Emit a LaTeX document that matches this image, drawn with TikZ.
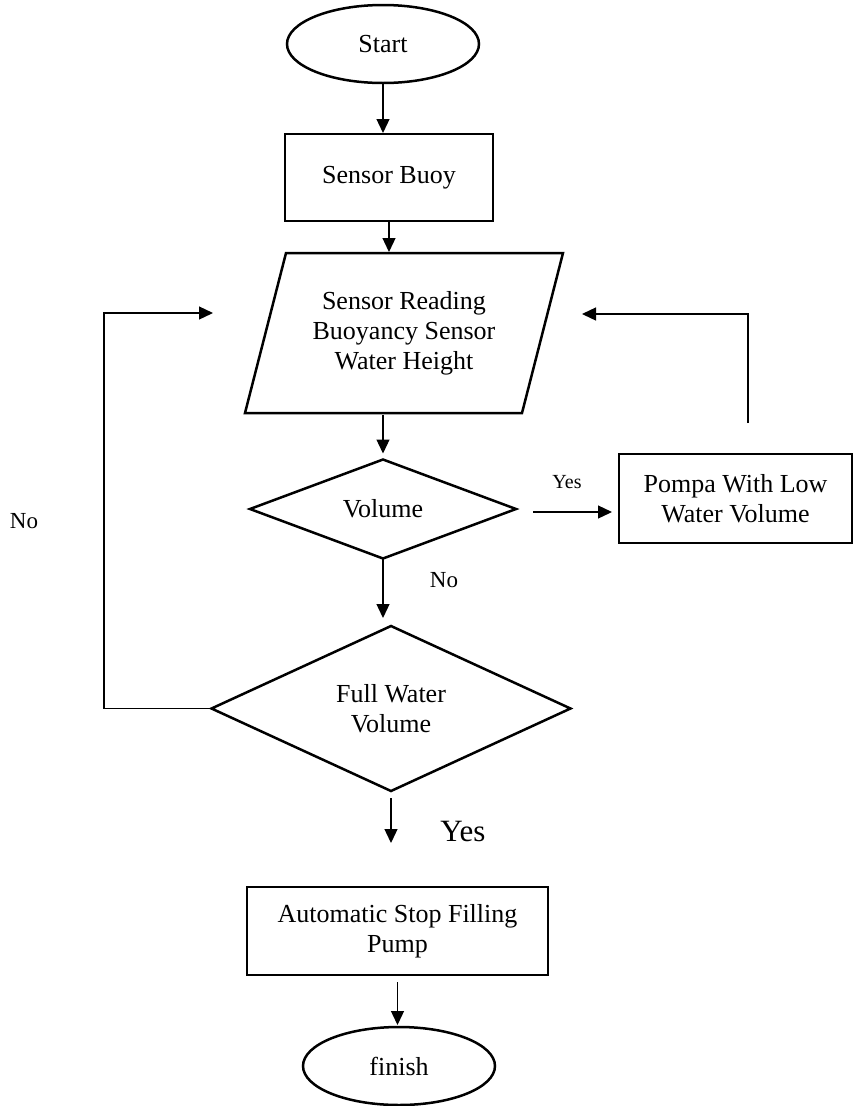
\documentclass[tikz,border=0pt]{standalone}
\usepackage{fontspec}
\setmainfont{Liberation Serif}
\usetikzlibrary{shapes.geometric,arrows.meta,calc}
\begin{document}
\begin{tikzpicture}[x=1pt,y=-1pt,
  shp/.style={draw, line width=2.5pt, inner sep=0pt, outer sep=0pt, align=center, font=\fontsize{26}{30}\selectfont},
  term/.style={shp, ellipse, minimum width=192pt, minimum height=78pt},
  proc/.style={shp, rectangle},
  dec/.style={shp, diamond, aspect=2.5},
  arr/.style={line width=1.3pt, -{Triangle[length=14pt,width=13pt]}},
  lbl/.style={inner sep=0pt, font=\fontsize{#1}{#1}\selectfont}]
\useasboundingbox[fill=white] (0,0) rectangle (855,1106);

% nodes
\node[term] (start) at (383,44) {Start};
\node[proc, minimum width=208pt, minimum height=87pt] (buoy) at (389,177.5) {Sensor Buoy};
\node[shp, draw=none, minimum width=318pt, minimum height=160pt] (para) at (404,333) {Sensor Reading\\Buoyancy Sensor\\Water Height};
\draw[line width=2.5pt, line join=miter] (para.south west) -- ($(para.north west)+(41,0)$) -- (para.north east) -- ($(para.south east)+(-41,0)$) -- cycle;
\node[dec, minimum width=266pt, minimum height=99pt] (vol) at (383,509) {Volume};
\node[proc, minimum width=233pt, minimum height=89pt] (pompa) at (735.5,498.5) {Pompa With Low\\Water Volume};
\node[dec, minimum width=359pt, minimum height=165pt] (full) at (391,708.5) {Full Water\\Volume};
\node[proc, minimum width=301pt, minimum height=88pt] (auto) at (397.5,931) {Automatic Stop Filling\\Pump};
\node[term] (finish) at (399,1066) {finish};

% labels
\node[lbl=20] (yes1) at (567,482) {Yes};
\node[lbl=23] (no1) at (444,580) {No};
\node[lbl=23] (no2) at (24,521) {No};
\node[lbl=31] (yes2) at (463,831) {Yes};

% free-end coordinates
\coordinate (rA) at (748,423);
\coordinate (rTip) at (582,314);
\coordinate (lB) at (104,708.5);
\coordinate (lTip) at (213,313);

% connectors
\draw[arr, shorten <=1pt, shorten >=1pt] (start.south) -- (start.south |- buoy.north);
\draw[arr, shorten >=1pt] (buoy.south) -- (buoy.south |- para.north);
\draw[arr, shorten <=2pt, shorten >=6pt] (vol.north |- para.south) -- (vol.north);
\draw[arr, shorten <=17pt, shorten >=7pt] ($(vol.east)+(0,3)$) -- ($(vol.east -| pompa.west)+(0,3)$);
\draw[arr] (rA) |- (rTip);
\draw[arr, shorten >=8pt] (vol.south) -- (vol.south |- full.north);
\draw[arr] (full.west) -- (lB) |- (lTip);
\draw[arr, shorten <=7pt, shorten >=44pt] (full.south) -- (full.south |- auto.north);
\draw[arr, shorten <=7pt, shorten >=2pt] (auto.south) -- (auto.south |- finish.north);
\end{tikzpicture}
\end{document}
